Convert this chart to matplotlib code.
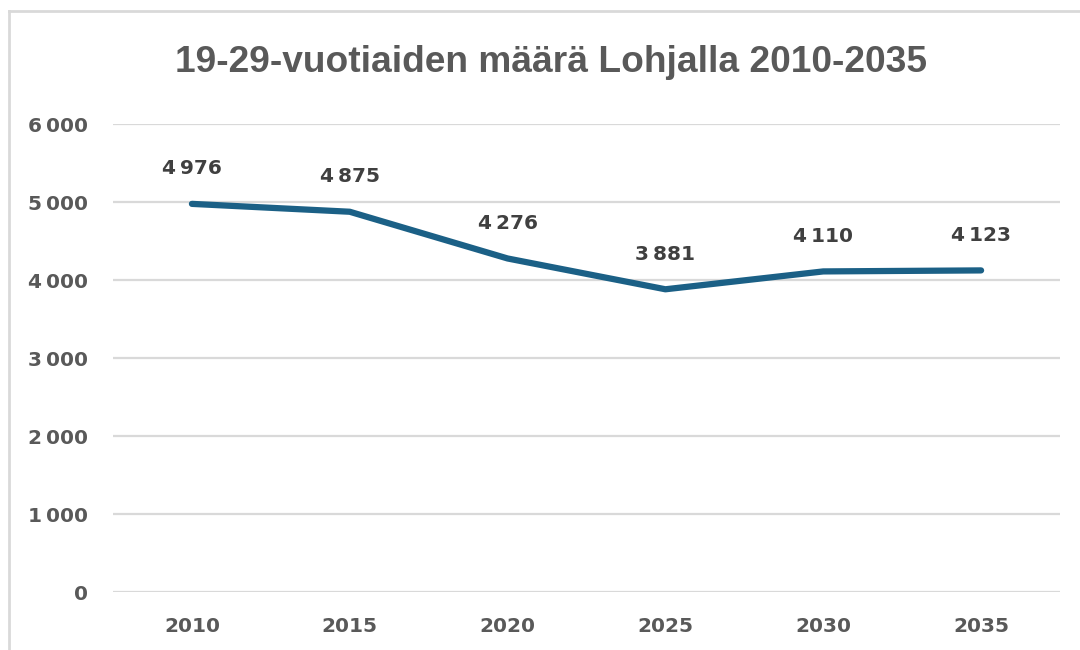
import matplotlib
matplotlib.use("Agg")
import matplotlib.pyplot as plt
from matplotlib.lines import Line2D

# data
years = ["2010", "2015", "2020", "2025", "2030", "2035"]
counts = [4976, 4875, 4276, 3881, 4110, 4123]
y_ticks = [0, 1000, 2000, 3000, 4000, 5000, 6000]

title = "19-29-vuotiaiden määrä Lohjalla 2010-2035"

W, H = 1080, 650
line_color = "#1b6086"
grid_color = "#d9d9d9"
tick_color = "#595959"
label_color = "#404040"


def fmt(v):
    # Finnish style thousands separator (narrow no-break space)
    return f"{v:,}".replace(",", "\u202f")


fig = plt.figure(figsize=(W / 100, H / 100), dpi=100)

# chart frame: only the top and left edges are visible in the crop
fig.lines.append(Line2D([9 / W, 1.0], [1 - 11 / H, 1 - 11 / H],
                        transform=fig.transFigure, color="#d9d9d9", linewidth=2))
fig.lines.append(Line2D([9 / W, 9 / W], [0, 1 - 11 / H],
                        transform=fig.transFigure, color="#d9d9d9", linewidth=2))

ax = fig.add_axes([113 / W, (H - 592) / H, 947 / W, (592 - 124) / H])
x = list(range(len(years)))
ax.plot(x, counts, color=line_color, linewidth=4.5, solid_capstyle="round",
        solid_joinstyle="round", zorder=3)

for xi, v in zip(x, counts):
    ax.annotate(fmt(v), (xi, v), xytext=(0, 35), textcoords="offset pixels",
                ha="center", va="center", fontsize=14.5, fontweight="bold",
                color=label_color)

ax.set_xlim(-0.5, len(years) - 0.5)
ax.set_ylim(0, 6000)
ax.set_yticks(y_ticks)
ax.set_yticklabels([fmt(t) for t in y_ticks])
ax.set_xticks(x)
ax.set_xticklabels(years)
ax.tick_params(axis="both", length=0, labelsize=14.5, labelcolor=tick_color)
ax.tick_params(axis="y", pad=18)
ax.tick_params(axis="x", pad=18)
for lab in ax.get_xticklabels() + ax.get_yticklabels():
    lab.set_fontweight("bold")

ax.grid(axis="y", color=grid_color, linewidth=1.6)
ax.set_axisbelow(True)
for sp in ax.spines.values():
    sp.set_visible(False)

fig.text(551 / W, 1 - 63 / H, title, ha="center", va="center",
         fontsize=26.7, fontweight="bold", color=tick_color,
         family=["Liberation Sans", "DejaVu Sans"])

fig.savefig("out.png", dpi=100)
